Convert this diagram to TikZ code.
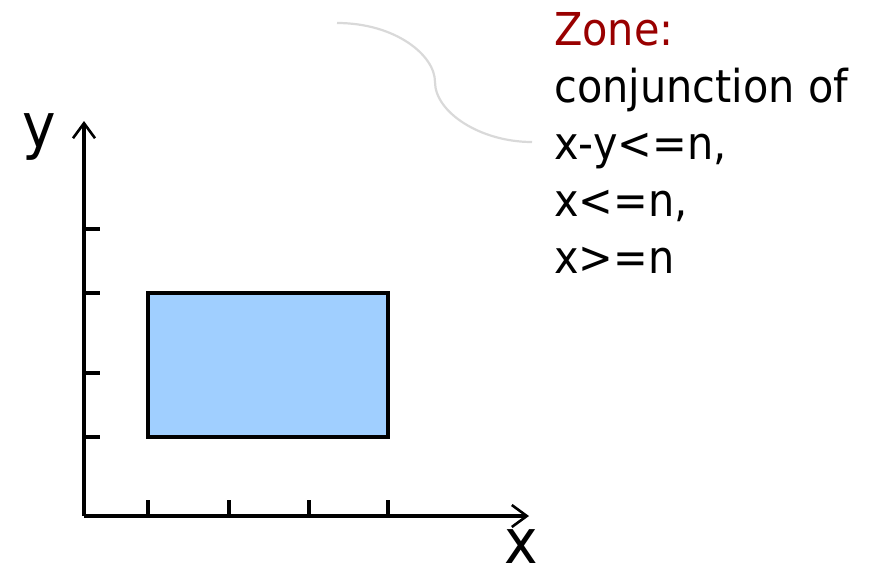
\documentclass[tikz,border=0pt]{standalone}
\usepackage{fontspec}
\usetikzlibrary{arrows.meta}
\newfontfamily\tfont[FakeStretch=0.915]{DejaVu Sans}
\definecolor{zonered}{HTML}{990000}
\definecolor{zonefill}{HTML}{A0CFFF}
\definecolor{callout}{HTML}{D9D9D9}
\tikzset{
  axis/.style={line width=3.3pt, -{Straight Barb[length=15pt,width=22pt,line width=2.6pt]}},
  tickmark/.style={line width=3.3pt},
  txt/.style={inner sep=0pt, anchor=base west, font=\tfont\fontsize{45.3}{57}\selectfont},
  biglabel/.style={inner sep=0pt, anchor=base west, font=\tfont\fontsize{62}{70}\selectfont},
}
\begin{document}
\begin{tikzpicture}[x=1pt,y=-1pt]
\useasboundingbox (0,0) rectangle (869,568);
% region
\draw[line width=3.3pt, fill=zonefill] (148,293) rectangle (388,437);
% axes
\coordinate (o) at (84,516);
\coordinate (ytip) at (84,121);
\coordinate (xtip) at (529,516);
\draw[axis] (o) -- (ytip);
\draw[axis] (o) -- (xtip);
% ticks
\foreach \yy in {229,293,373,437} \draw[tickmark] (84,\yy) -- (100,\yy);
\foreach \xx in {148,229,309,388} \draw[tickmark] (\xx,516) -- (\xx,500);
% labels
\node[biglabel] (ylab) at (22,147) {y};
\node[biglabel] (xlab) at (504,563) {x};
% text
\node[txt, text=zonered] (zone) at (554,45) {Zone:};
\node[txt] (conj) at (554,102) {conjunction of};
\node[txt] (l1) at (554,159) {x-y<=n,};
\node[txt] (l2) at (554,216) {x<=n,};
\node[txt] (l3) at (554,273) {x>=n};
% callout curve
\coordinate (cs) at (337,23);
\coordinate (cm) at (435,82);
\coordinate (ce) at (532,142);
\draw[callout, line width=2.2pt] (cs) .. controls (395,23) and (435,55) .. (cm)
  .. controls (435,112) and (480,142) .. (ce);
\end{tikzpicture}
\end{document}
